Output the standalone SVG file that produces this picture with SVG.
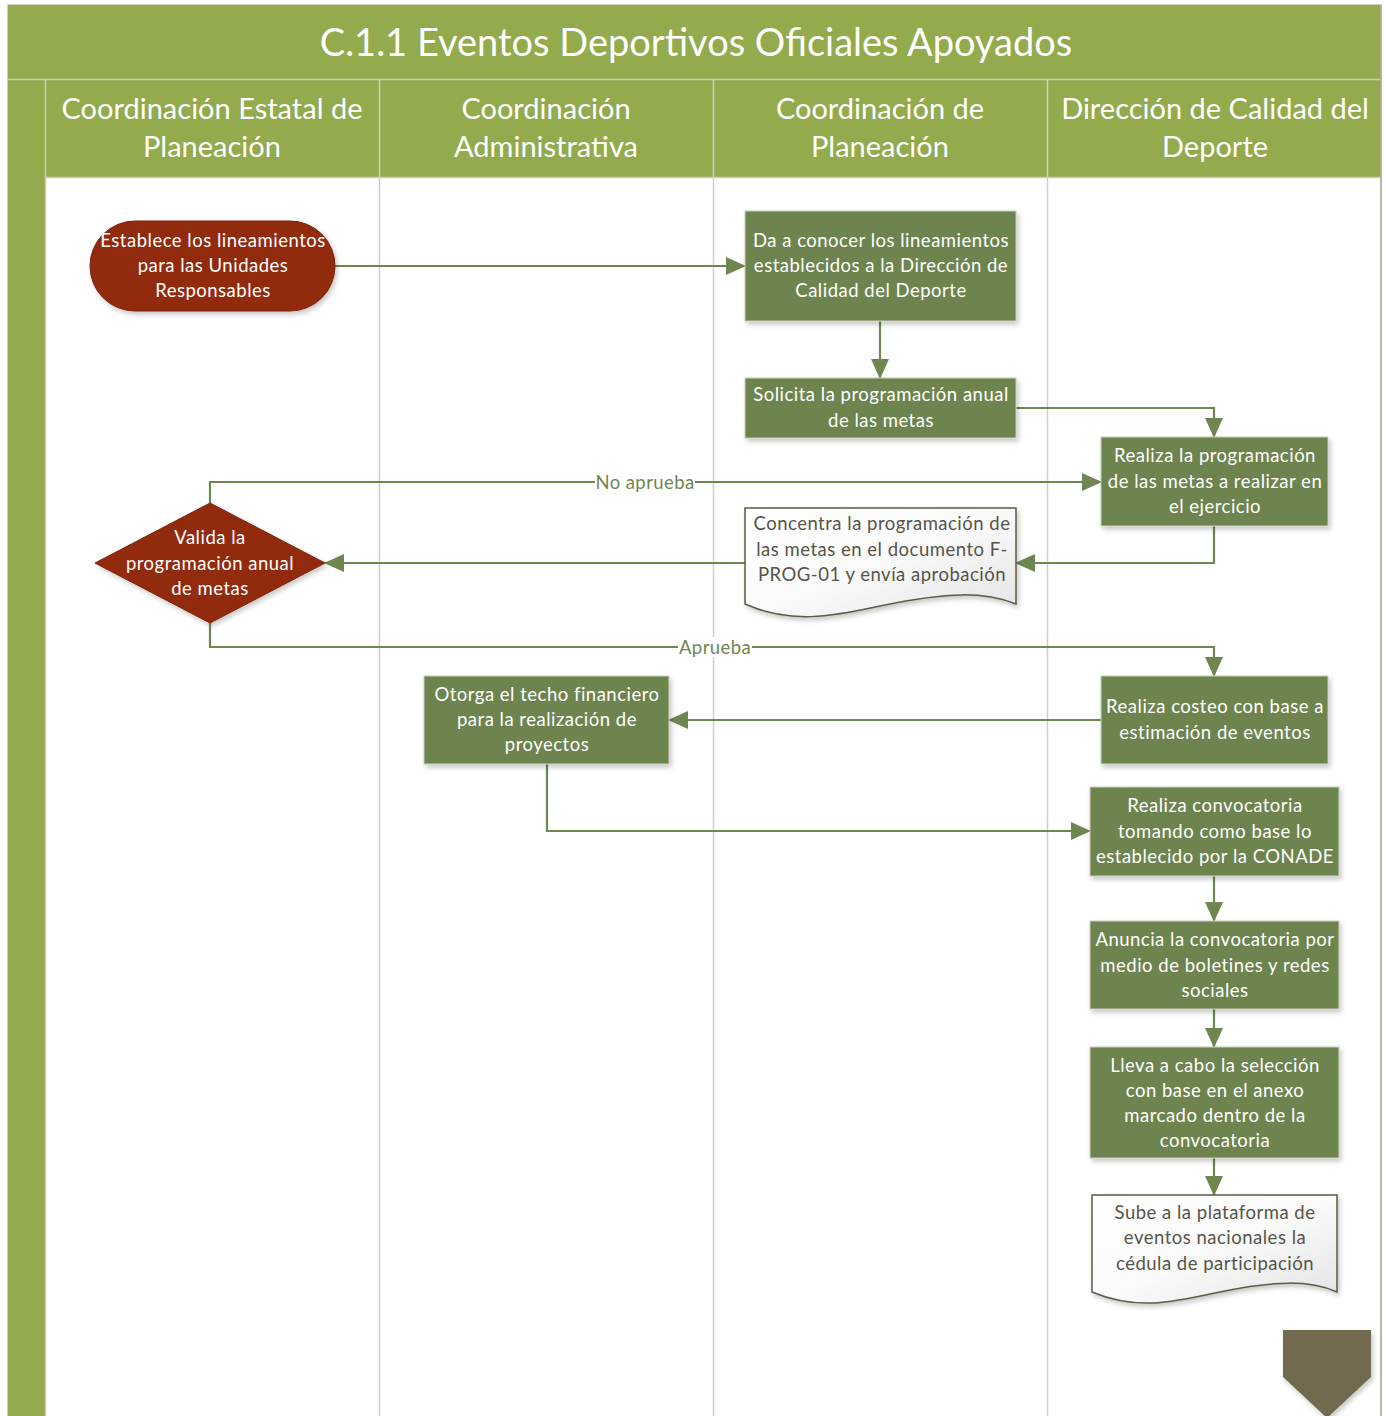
<svg xmlns="http://www.w3.org/2000/svg" width="1386" height="1416" viewBox="0 0 1386 1416">
<defs>
<style>
.t{font-family:Lato,"Open Sans","Liberation Sans",sans-serif;text-anchor:middle}
.w{fill:#ffffff;font-size:18.5px;letter-spacing:0.5px}
.d{fill:#55554a;font-size:18.5px;letter-spacing:0.5px}
.hd{fill:#ffffff;font-size:29px}
.lbl{fill:#6f8650;font-size:18.5px;letter-spacing:0.4px}
.box{fill:#6e844f;stroke:#c9cfbf;stroke-width:1}
.red{fill:#922a0e;stroke:#7a230b;stroke-width:1}
.doc{fill:url(#dg);stroke:#5e5a45;stroke-width:1.5}
.cn{fill:none;stroke:#6f8650;stroke-width:2.2}
.lane{stroke:#cfcfc7;stroke-width:1.5}
</style>
<linearGradient id="dg" x1="0" y1="0" x2="1" y2="1">
<stop offset="0" stop-color="#ffffff"/>
<stop offset="0.5" stop-color="#fafafa"/>
<stop offset="1" stop-color="#e3e3e3"/>
</linearGradient>
<filter id="sh" x="-10%" y="-10%" width="125%" height="130%">
<feDropShadow dx="2" dy="3" stdDeviation="2.5" flood-color="#000" flood-opacity="0.22"/>
</filter>
<marker id="ar" markerUnits="userSpaceOnUse" markerWidth="20" markerHeight="18" viewBox="0 0 20 18" refX="19" refY="9" orient="auto">
<path d="M0,0 L20,9 L0,18 Z" fill="#6f8650"/>
</marker>
</defs>

<g id="frame">
<rect x="8" y="5" width="1373" height="1420" fill="#ffffff" stroke="#c7c0b0" stroke-width="1.5"/>
<rect x="8" y="5" width="1373" height="74" fill="#93aa4d"/>
<rect x="8" y="79" width="37" height="1345" fill="#93aa4d"/>
<rect x="45" y="80" width="1336" height="97" fill="#93aa4d"/>
<line x1="8" y1="79.5" x2="1381" y2="79.5" stroke="#c9cbbf" stroke-width="1.5"/>
<line x1="45" y1="177.5" x2="1381" y2="177.5" stroke="#c9cbbf" stroke-width="1.5"/>
<line x1="45.5" y1="80" x2="45.5" y2="1416" stroke="#c9cbbf" stroke-width="1.5"/>
<line class="lane" x1="379.5" y1="80" x2="379.5" y2="1416"/>
<line class="lane" x1="713.5" y1="80" x2="713.5" y2="1416"/>
<line class="lane" x1="1047.5" y1="80" x2="1047.5" y2="1416"/>
<line x1="1381" y1="5" x2="1381" y2="1416" stroke="#b9a89a" stroke-width="1.5"/>
<text class="t" x="696" y="56" fill="#ffffff" font-size="38">C.1.1 Eventos Deportivos Oficiales Apoyados</text>
<text class="t hd" x="212" y="119">Coordinación Estatal de</text>
<text class="t hd" x="212" y="157">Planeación</text>
<text class="t hd" x="546" y="119">Coordinación</text>
<text class="t hd" x="546" y="157">Administrativa</text>
<text class="t hd" x="880" y="119">Coordinación de</text>
<text class="t hd" x="880" y="157">Planeación</text>
<text class="t hd" x="1215" y="119">Dirección de Calidad del</text>
<text class="t hd" x="1215" y="157">Deporte</text>
</g>

<g id="connectors">
<path class="cn" d="M335,266 H745" marker-end="url(#ar)"/>
<path class="cn" d="M880,321 V378" marker-end="url(#ar)"/>
<path class="cn" d="M1016,408 H1214 V437" marker-end="url(#ar)"/>
<path class="cn" d="M210,503 V482 H1101" marker-end="url(#ar)"/>
<path class="cn" d="M1214,526 V563 H1016" marker-end="url(#ar)"/>
<path class="cn" d="M745,563 H325" marker-end="url(#ar)"/>
<path class="cn" d="M210,623 V647 H1214 V676" marker-end="url(#ar)"/>
<path class="cn" d="M1101,720 H669" marker-end="url(#ar)"/>
<path class="cn" d="M547,764 V831 H1090" marker-end="url(#ar)"/>
<path class="cn" d="M1214,876 V921" marker-end="url(#ar)"/>
<path class="cn" d="M1214,1009 V1047" marker-end="url(#ar)"/>
<path class="cn" d="M1214,1158 V1195" marker-end="url(#ar)"/>
<rect x="595" y="472" width="100" height="20" fill="#ffffff"/>
<text class="t lbl" x="645" y="489">No aprueba</text>
<rect x="678" y="637" width="74" height="20" fill="#ffffff"/>
<text class="t lbl" x="715" y="654">Aprueba</text>
</g>

<g id="n1">
<rect class="red" x="90" y="221" width="245" height="90" rx="45" filter="url(#sh)"/>
<text class="t w" x="213" y="247">Establece los lineamientos</text>
<text class="t w" x="213" y="272">para las Unidades</text>
<text class="t w" x="213" y="297">Responsables</text>
</g>

<g id="n2">
<rect class="box" x="745" y="211" width="271" height="110" filter="url(#sh)"/>
<text class="t w" x="881" y="247">Da a conocer los lineamientos</text>
<text class="t w" x="881" y="272">establecidos a la Dirección de</text>
<text class="t w" x="881" y="297">Calidad del Deporte</text>
</g>

<g id="n3">
<rect class="box" x="745" y="378" width="271" height="60" filter="url(#sh)"/>
<text class="t w" x="881" y="401">Solicita la programación anual</text>
<text class="t w" x="881" y="427">de las metas</text>
</g>

<g id="n4">
<rect class="box" x="1101" y="437" width="227" height="89" filter="url(#sh)"/>
<text class="t w" x="1215" y="462">Realiza la programación</text>
<text class="t w" x="1215" y="488">de las metas a realizar en</text>
<text class="t w" x="1215" y="513">el ejercicio</text>
</g>

<g id="n5">
<path class="red" d="M210,503 L325,563 L210,623 L95,563 Z" filter="url(#sh)"/>
<text class="t w" x="210" y="544">Valida la</text>
<text class="t w" x="210" y="570">programación anual</text>
<text class="t w" x="210" y="595">de metas</text>
</g>

<g id="n6">
<path class="doc" d="M745,508 H1016 V604 C985,592 950,591 880,606 C830,617 790,624 745,604 Z" filter="url(#sh)"/>
<text class="t d" x="882" y="530">Concentra la programación de</text>
<text class="t d" x="882" y="556">las metas en el documento F-</text>
<text class="t d" x="882" y="581">PROG-01 y envía aprobación</text>
</g>

<g id="n7">
<rect class="box" x="424" y="676" width="245" height="88" filter="url(#sh)"/>
<text class="t w" x="547" y="701">Otorga el techo financiero</text>
<text class="t w" x="547" y="726">para la realización de</text>
<text class="t w" x="547" y="751">proyectos</text>
</g>

<g id="n8">
<rect class="box" x="1101" y="676" width="227" height="88" filter="url(#sh)"/>
<text class="t w" x="1215" y="713">Realiza costeo con base a</text>
<text class="t w" x="1215" y="739">estimación de eventos</text>
</g>

<g id="n9">
<rect class="box" x="1090" y="787" width="249" height="89" filter="url(#sh)"/>
<text class="t w" x="1215" y="812">Realiza convocatoria</text>
<text class="t w" x="1215" y="838">tomando como base lo</text>
<text class="t w" x="1215" y="863">establecido por la CONADE</text>
</g>

<g id="n10">
<rect class="box" x="1090" y="921" width="249" height="88" filter="url(#sh)"/>
<text class="t w" x="1215" y="946">Anuncia la convocatoria por</text>
<text class="t w" x="1215" y="972">medio de boletines y redes</text>
<text class="t w" x="1215" y="997">sociales</text>
</g>

<g id="n11">
<rect class="box" x="1090" y="1047" width="249" height="111" filter="url(#sh)"/>
<text class="t w" x="1215" y="1072">Lleva a cabo la selección</text>
<text class="t w" x="1215" y="1097">con base en el anexo</text>
<text class="t w" x="1215" y="1122">marcado dentro de la</text>
<text class="t w" x="1215" y="1147">convocatoria</text>
</g>

<g id="n12">
<path class="doc" d="M1092,1195 H1337 V1292 C1310,1280 1275,1280 1215,1293 C1170,1303 1135,1310 1092,1292 Z" filter="url(#sh)"/>
<text class="t d" x="1215" y="1219">Sube a la plataforma de</text>
<text class="t d" x="1215" y="1244">eventos nacionales la</text>
<text class="t d" x="1215" y="1270">cédula de participación</text>
</g>

<g id="n13">
<path d="M1283,1330 H1371 V1377 L1327,1418 L1283,1377 Z" fill="#726a50" filter="url(#sh)"/>
</g>
</svg>
